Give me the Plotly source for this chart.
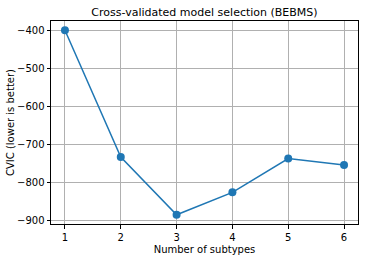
import plotly.graph_objects as go

n_subtypes = [1, 2, 3, 4, 5, 6]
cvic = [-400, -734, -886, -827, -738, -755]
y_ticks = [-400, -500, -600, -700, -800, -900]

fig = go.Figure()
fig.add_trace(go.Scatter(
    x=n_subtypes, y=cvic, mode="lines+markers",
    line=dict(color="#1f77b4", width=1.5),
    marker=dict(color="#1f77b4", size=8),
))

axis_common = dict(
    showline=True, linecolor="black", linewidth=1, mirror=True,
    showgrid=True, gridcolor="#b0b0b0", gridwidth=0.8,
    ticks="outside", ticklen=3.5, tickcolor="black",
    tickfont=dict(family="DejaVu Sans", size=10, color="black"),
    zeroline=False, automargin=False,
)

fig.update_layout(
    width=365, height=259,
    margin=dict(l=51, r=7, t=21, b=35),
    paper_bgcolor="white", plot_bgcolor="white",
    showlegend=False,
    title=dict(text="Cross-validated model selection (BEBMS)",
               font=dict(family="DejaVu Sans", size=11, color="black"),
               xref="paper", x=0.5, xanchor="center",
               yref="container", y=1 - 12 / 259, yanchor="middle"),
    xaxis=dict(range=[0.75, 6.25], tickvals=n_subtypes,
               title=dict(text="Number of subtypes", standoff=4,
                          font=dict(family="DejaVu Sans", size=10, color="black")),
               **axis_common),
    yaxis=dict(range=[-910.3, -375.7], tickvals=y_ticks,
               tickformat="d",
               title=dict(text="CVIC (lower is better)", standoff=0,
                          font=dict(family="DejaVu Sans", size=10, color="black")),
               **axis_common),
)
fig.write_html("out.html", config={"displayModeBar": False},
               post_script="document.body.style.margin='0';")
